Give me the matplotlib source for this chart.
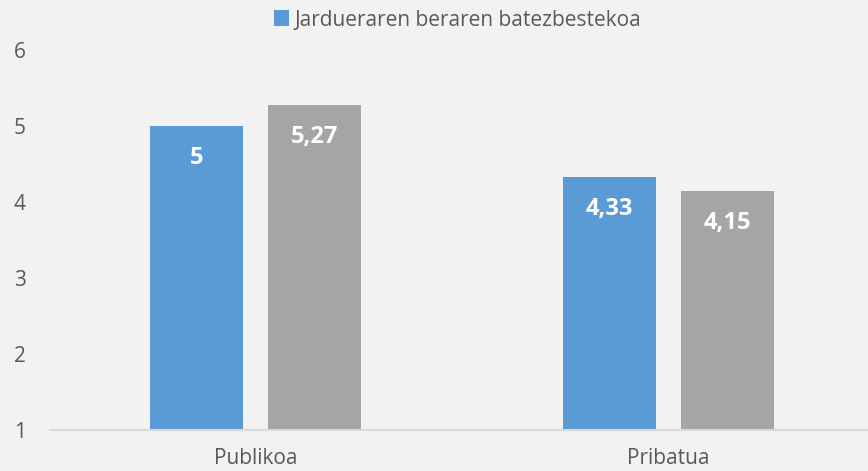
import matplotlib.pyplot as plt
import numpy as np
from matplotlib.patches import Patch

categories = ['Publikoa', 'Pribatua']
blue_vals = [5, 4.33]
gray_vals = [5.27, 4.15]
blue_labels = ['5', '4,33']
gray_labels = ['5,27', '4,15']
legend_label = 'Jardueraren beraren batezbestekoa'

plt.rcParams['font.family'] = ['Open Sans', 'DejaVu Sans']
txt = '#595959'
bg = '#f2f2f2'

fig = plt.figure(figsize=(8.68, 4.71), dpi=100, facecolor=bg)
ax = fig.add_axes([49.5/868, 41/471, 825/868, 380/471])
ax.set_facecolor(bg)

x = np.arange(len(categories))
w = 0.225
off = 0.143
ax.bar(x - off, np.array(blue_vals) - 1, w, bottom=1, color='#5b9bd5')
ax.bar(x + off, np.array(gray_vals) - 1, w, bottom=1, color='#a5a5a5')

# value labels, white, inside the top of each bar
for xi, v, lab in zip(x - off, blue_vals, blue_labels):
    ax.annotate(lab, (xi, v), xytext=(0, -32), textcoords='offset pixels',
                ha='center', va='center', color='white', fontsize=17, fontweight='bold')
for xi, v, lab in zip(x + off, gray_vals, gray_labels):
    ax.annotate(lab, (xi, v), xytext=(0, -32), textcoords='offset pixels',
                ha='center', va='center', color='white', fontsize=17, fontweight='bold')

ax.set_xlim(-0.5, 1.5)
ax.set_ylim(1, 6)
ax.set_yticks([1, 2, 3, 4, 5, 6])
ax.set_xticks(x)
ax.set_xticklabels(categories)
ax.tick_params(axis='both', length=0, colors=txt, labelsize=15)
ax.tick_params(axis='y', pad=17)
ax.tick_params(axis='x', pad=13)
for s in ['top', 'right', 'left']:
    ax.spines[s].set_visible(False)
ax.spines['bottom'].set_color('#d9d9d9')
ax.spines['bottom'].set_linewidth(1.5)

handle = Patch(facecolor='#5b9bd5')
fig.legend([handle], [legend_label], loc='center', bbox_to_anchor=(458/868, 1 - 20/471),
           frameon=False, fontsize=15, labelcolor=txt, handlelength=0.7, handleheight=0.8,
           handletextpad=0.3)

fig.savefig('out.png', dpi=100, facecolor=bg)
